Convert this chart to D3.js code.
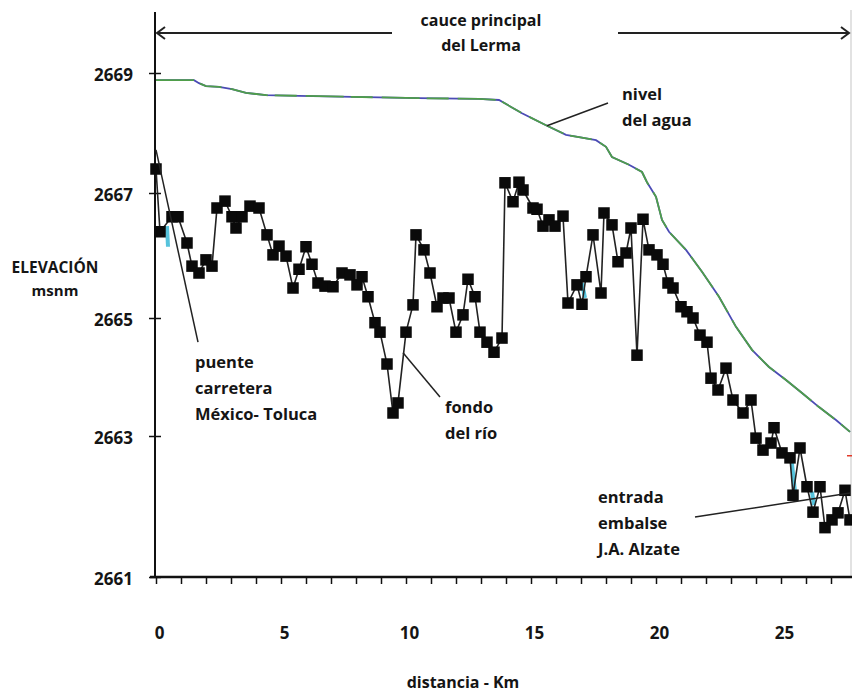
<!DOCTYPE html>
<html><head><meta charset="utf-8">
<script src="https://cdn.jsdelivr.net/npm/d3@7"></script>
<style>
body{margin:0;background:#fff}
svg text{font-family:"Open Sans",sans-serif;font-weight:700;fill:#151515}
</style>
</head><body>
<svg id="c" width="852" height="692"></svg>
<script>
// ---- data ----
const bottomKm = [0.0,0.16,0.64,0.88,1.24,1.44,1.72,2.0,2.24,2.44,2.76,3.04,3.2,3.44,3.76,4.12,4.44,4.68,4.92,5.2,
  5.48,5.72,6.0,6.24,6.48,6.76,7.08,7.44,7.76,8.04,8.24,8.48,8.76,8.96,9.24,9.48,9.68,10.0,10.28,10.4,
  10.72,10.96,11.24,11.48,11.72,12.0,12.28,12.48,12.76,12.96,13.24,13.52,13.84,13.96,14.28,14.52,14.68,15.08,15.24,15.48,
  15.72,15.96,16.28,16.48,16.84,17.04,17.2,17.48,17.8,17.92,18.24,18.48,18.8,19.0,19.24,19.48,19.72,20.04,20.28,20.48,
  20.68,21.0,21.24,21.48,21.76,22.04,22.2,22.48,22.8,23.08,23.48,23.8,24.0,24.28,24.6,24.72,25.04,25.36,25.48,25.76,
  26.04,26.28,26.56,26.76,27.04,27.28,27.56,27.76];
const bottomElev = [2667.40,2666.38,2666.62,2666.62,2666.20,2665.83,2665.72,2665.93,2665.83,2666.76,2666.87,2666.62,2666.44,2666.62,2666.79,2666.76,2666.33,2666.01,2666.15,2665.99,
  2665.48,2665.78,2666.14,2665.86,2665.56,2665.51,2665.50,2665.72,2665.69,2665.53,2665.66,2665.34,2664.92,2664.76,2664.22,2663.39,2663.56,2664.76,2665.21,2666.33,
  2666.09,2665.72,2665.18,2665.32,2665.32,2664.76,2665.05,2665.62,2665.34,2664.76,2664.59,2664.42,2664.66,2667.17,2666.86,2667.18,2667.05,2666.76,2666.74,2666.47,
  2666.57,2666.47,2666.63,2665.24,2665.53,2665.22,2665.66,2666.33,2665.40,2666.68,2666.49,2665.90,2666.04,2666.44,2664.37,2666.58,2666.09,2666.01,2665.86,2665.56,
  2665.48,2665.18,2665.10,2665.00,2664.71,2664.59,2663.98,2663.78,2664.15,2663.61,2663.39,2663.61,2662.97,2662.80,2662.90,2663.14,2662.76,2662.69,2662.16,2662.83,
  2662.28,2661.92,2662.28,2661.70,2661.81,2661.91,2662.23,2661.81];

const waterKm = [0,1.52,1.72,2.0,2.52,3.04,3.6,4.4,5.72,10.52,12.92,13.72,14.64,15.6,16.4,16.92,17.6,18.0,18.24,18.92,
  19.44,19.64,20.0,20.24,20.52,21.2,21.84,22.52,23.2,23.84,24.52,25.2,25.84,26.52,27.2,27.76];
const waterElev = [2668.88,2668.88,2668.83,2668.78,2668.77,2668.73,2668.67,2668.63,2668.62,2668.58,2668.57,2668.55,2668.33,2668.13,2667.97,2667.93,2667.88,2667.77,2667.60,2667.47,
  2667.35,2667.18,2666.94,2666.57,2666.38,2666.09,2665.74,2665.34,2664.85,2664.46,2664.17,2663.95,2663.73,2663.49,2663.27,2663.07];

// small cyan series visible behind the black line
const cyanSegments = [
  [[0.44,2666.47],[0.48,2666.14]],
  [[17.04,2665.56],[17.16,2665.32]],
  [[25.40,2662.73],[25.56,2662.21]],
  [[26.24,2662.21],[26.32,2662.02]]
];
const redKm = [27.64,27.84];
const redElev = [2662.72,2662.72];

const yTickValues = [2661,2663,2665,2667,2669];
const xMinorTicks = [0,1,2,3,4,5,6,7,8,9,10,11,12,13,14,15,16,17,18,19,20,21,22,23,24,25,26,27];
const xLabelValues = [0,5,10,15,20,25];

// annotations: text lines and pointer lines (in data coords)
const notes = [
  {lines:["puente","carretera","México- Toluca"], x:195, y:362, anchor:"start", ptr:[[0.0,2667.72],[1.68,2664.59]]},
  {lines:["fondo","del río"], x:445, y:407, anchor:"start", ptr:[[9.88,2664.41],[11.36,2663.66]]},
  {lines:["nivel","del agua"], x:622, y:94, anchor:"start", ptr:[[15.64,2668.12],[18.08,2668.5]]},
  {lines:["entrada","embalse","J.A. Alzate"], x:598, y:497, anchor:"start", ptr:[[21.56,2661.85],[27.76,2662.19]]}
];

// ---- scales ----
const svg = d3.select("#c");
const x = d3.scaleLinear().domain([0, 27.84]).range([156, 852]);
const y = d3.scaleLinear().domain([2661,2663,2665,2667,2669]).range([577,436,318,193,73]);

// right faint border
svg.append("line").attr("x1",851).attr("x2",851).attr("y1",10).attr("y2",577)
  .attr("stroke","#d8d8d8").attr("stroke-width",1.5);

// axes
const yAxis = d3.axisLeft(y).tickValues(yTickValues).tickSize(6).tickPadding(16).tickFormat(d3.format("d"));
const gy = svg.append("g").attr("transform","translate(155,0)").call(yAxis);
gy.select(".domain").remove();
gy.selectAll(".tick line").attr("x1",6).attr("x2",-6).attr("stroke","#111").attr("stroke-width",1.5);
gy.selectAll(".tick text").style("font-size","17px").attr("dy","0.45em");
svg.append("line").attr("x1",155).attr("x2",155).attr("y1",12).attr("y2",578)
  .attr("stroke","#111").attr("stroke-width",2);

const xAxis = d3.axisBottom(x).tickValues(xMinorTicks).tickSize(7).tickFormat("");
const gx = svg.append("g").attr("transform","translate(0,577)").call(xAxis);
gx.select(".domain").remove();
gx.selectAll(".tick line").attr("stroke","#111").attr("stroke-width",1.5);
svg.append("line").attr("x1",150).attr("x2",852).attr("y1",577).attr("y2",577)
  .attr("stroke","#111").attr("stroke-width",2.5);
const xLab = d3.axisBottom(x).tickValues(xLabelValues).tickSize(0).tickPadding(50).tickFormat(d3.format("d"));
const gxl = svg.append("g").attr("transform","translate(3,577)").call(xLab);
gxl.select(".domain").remove();
gxl.selectAll(".tick text").style("font-size","17px");

svg.append("text").attr("x",463).attr("y",688).attr("text-anchor","middle")
  .style("font-size","16px").text("distancia - Km");
svg.append("text").attr("x",55).attr("y",273).attr("text-anchor","middle")
  .style("font-size","15.5px").text("ELEVACIÓN");
svg.append("text").attr("x",55).attr("y",296).attr("text-anchor","middle")
  .style("font-size","15px").text("msnm");

// top span annotation
svg.append("text").attr("x",481).attr("y",26).attr("text-anchor","middle").style("font-size","16px").text("cauce principal");
svg.append("text").attr("x",481).attr("y",51).attr("text-anchor","middle").style("font-size","16px").text("del Lerma");
svg.append("line").attr("x1",157).attr("x2",392).attr("y1",33).attr("y2",33).attr("stroke","#222").attr("stroke-width",2);
svg.append("line").attr("x1",618).attr("x2",849).attr("y1",33).attr("y2",33).attr("stroke","#222").attr("stroke-width",2);
svg.append("path").attr("d","M165,27 L157,33 L165,39").attr("fill","none").attr("stroke","#222").attr("stroke-width",2);
svg.append("path").attr("d","M841,27 L849,33 L841,39").attr("fill","none").attr("stroke","#222").attr("stroke-width",2);

// water level line
const water = waterKm.map((k,i)=>[k,waterElev[i]]);
const line = d3.line().x(d=>x(d[0])).y(d=>y(d[1]));
svg.append("path").datum(water).attr("d",line).attr("fill","none").attr("stroke","#4b4bb5").attr("stroke-width",1.8);
svg.append("path").datum(water).attr("d",line).attr("fill","none").attr("stroke","#4f9e4a").attr("stroke-width",1.8)
  .attr("stroke-dasharray","38,7,22,9");

// red end trace
svg.append("path").datum(redKm.map((k,i)=>[k,redElev[i]])).attr("d",line).attr("fill","none").attr("stroke","#e23a2a").attr("stroke-width",1.5);

// cyan traces
cyanSegments.forEach(s=>{
  svg.append("path").datum(s).attr("d",line).attr("fill","none").attr("stroke","#56c3dc").attr("stroke-width",4);
});

// river bottom
const bottom = bottomKm.map((k,i)=>[k,bottomElev[i]]);
svg.append("path").datum(bottom).attr("d",line).attr("fill","none").attr("stroke","#222").attr("stroke-width",1.6);
const sq = 11.5;
svg.append("g").selectAll("rect").data(bottom).join("rect")
  .attr("x",d=>x(d[0])-sq/2).attr("y",d=>y(d[1])-sq/2).attr("width",sq).attr("height",sq).attr("fill","#0a0a0a");

// notes
notes.forEach(n=>{
  svg.append("path").datum(n.ptr).attr("d",line).attr("fill","none").attr("stroke","#222").attr("stroke-width",1.5);
  n.lines.forEach((t,i)=>{
    svg.append("text").attr("x",n.x).attr("y",n.y + i*26).attr("dy","0.35em").attr("text-anchor",n.anchor)
      .style("font-size","16.5px").text(t);
  });
});
</script>
</body></html>
